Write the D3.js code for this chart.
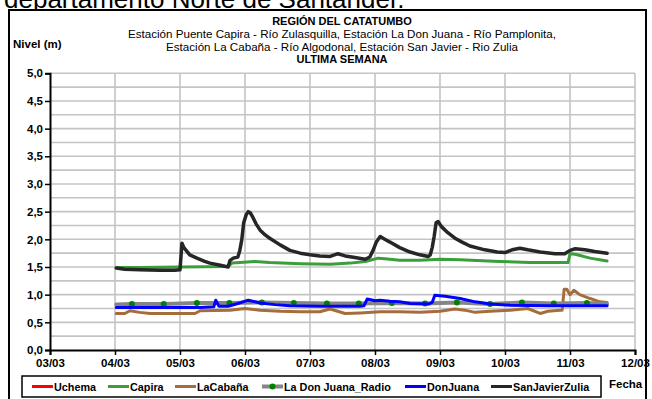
<!DOCTYPE html>
<html><head><meta charset="utf-8">
<script src="https://cdn.jsdelivr.net/npm/d3@7"></script>
<style>body{margin:0;background:#fff}svg{display:block;font-family:"Liberation Sans",Arial,sans-serif}</style>
</head><body><svg id="c" width="652" height="399"></svg>
<script>
// ---- data (times as day-of-March, decimal) ----
const topText = "departamento Norte de Santander.";
const titleLines = ["REGIÓN DEL CATATUMBO",
  "Estación Puente Capira - Río Zulasquilla, Estación La Don Juana - Río Pamplonita,",
  "Estación La Cabaña - Río Algodonal, Estación San Javier - Rio Zulia",
  "ULTIMA SEMANA"];
const yTicks = [0,0.5,1,1.5,2,2.5,3,3.5,4,4.5,5];
const seriesNames = ["Uchema","Capira","LaCabaña","La Don Juana_Radio","DonJuana","SanJavierZulia"];

const uchemaT = [], uchemaV = [];

const capiraT = [4.02,4.38,5.00,5.74,5.80,5.92,6.15,6.38,6.85,7.31,7.62,7.85,8.05,8.15,8.38,8.69,9.00,9.31,9.92,10.38,10.97,11.00,11.08,11.31,11.57];
const capiraV = [1.49,1.49,1.50,1.51,1.57,1.58,1.60,1.58,1.56,1.55,1.57,1.60,1.66,1.65,1.62,1.62,1.64,1.63,1.60,1.58,1.58,1.74,1.73,1.66,1.61];

const cabanaT = [4.02,4.15,4.23,4.38,4.54,5.23,5.31,5.77,6.00,6.23,6.54,6.85,7.15,7.31,7.54,7.77,8.08,8.38,8.69,9.00,9.23,9.38,9.54,9.77,10.08,10.35,10.54,10.66,10.85,10.88,10.91,10.95,11.00,11.06,11.15,11.31,11.46,11.57];
const cabanaV = [0.66,0.66,0.71,0.68,0.66,0.66,0.71,0.72,0.75,0.72,0.70,0.69,0.69,0.74,0.66,0.67,0.69,0.69,0.68,0.70,0.74,0.72,0.68,0.70,0.72,0.75,0.66,0.70,0.72,0.72,1.10,1.10,1.00,1.08,1.00,0.93,0.87,0.86];

const radioT = [4.02,4.26,4.75,5.26,5.76,6.26,6.75,7.26,7.75,8.26,8.77,9.26,9.77,10.26,10.75,11.26,11.57];
const radioV = [0.82,0.83,0.83,0.85,0.85,0.86,0.85,0.84,0.84,0.85,0.84,0.86,0.83,0.86,0.84,0.85,0.83];
const radioMarked = [0,1,1,1,1,1,1,1,1,1,1,1,1,1,1,1,0];

const donJuanaT = [4.02,4.54,5.31,5.52,5.55,5.60,5.74,5.89,6.05,6.23,6.46,6.69,7.15,7.77,7.83,7.88,8.00,8.08,8.23,8.38,8.54,8.82,8.88,8.92,9.08,9.31,9.54,9.77,10.08,10.69,11.57];
const donJuanaV = [0.77,0.77,0.77,0.78,0.90,0.79,0.79,0.84,0.90,0.85,0.82,0.80,0.79,0.79,0.80,0.92,0.89,0.90,0.88,0.87,0.84,0.83,0.86,0.99,0.97,0.93,0.87,0.83,0.81,0.80,0.80];

const sanJavierT = [4.02,4.15,4.38,4.69,4.92,5.00,5.03,5.06,5.15,5.26,5.38,5.46,5.62,5.74,5.77,5.82,5.89,5.92,5.95,5.98,6.02,6.05,6.08,6.12,6.17,6.23,6.31,6.38,6.54,6.69,6.85,7.00,7.15,7.31,7.43,7.54,7.69,7.85,7.92,7.97,8.02,8.08,8.15,8.23,8.38,8.54,8.69,8.82,8.85,8.88,8.91,8.94,8.97,9.03,9.12,9.23,9.34,9.46,9.69,9.88,10.00,10.11,10.23,10.35,10.54,10.77,10.92,11.00,11.08,11.23,11.38,11.57];
const sanJavierV = [1.48,1.46,1.45,1.44,1.44,1.45,1.93,1.85,1.72,1.66,1.60,1.57,1.53,1.50,1.62,1.66,1.68,1.80,1.99,2.30,2.45,2.50,2.48,2.40,2.28,2.17,2.08,2.02,1.90,1.80,1.75,1.72,1.70,1.69,1.74,1.70,1.67,1.64,1.68,1.80,1.95,2.05,2.00,1.95,1.85,1.77,1.72,1.69,1.72,1.85,2.05,2.30,2.32,2.22,2.12,2.02,1.95,1.88,1.81,1.77,1.76,1.81,1.84,1.81,1.77,1.74,1.74,1.80,1.83,1.81,1.78,1.75];

const colors = ["#ff0000","#3a9f3a","#a66d3c","#858585","#0000ff","#262626"];

// ---- helpers ----
const toDate = t => new Date(Date.UTC(2023,2,1) + (t-1)*864e5);
const zip = (T,V) => T.map((t,i)=>({x:toDate(t), y:V[i], i}));
const series = [zip(uchemaT,uchemaV), zip(capiraT,capiraV), zip(cabanaT,cabanaV),
                zip(radioT,radioV), zip(donJuanaT,donJuanaV), zip(sanJavierT,sanJavierV)];

const svg = d3.select("#c");
const L=50, R=635, T=73.3, B=350;
const x = d3.scaleUtc().domain([toDate(3), toDate(12)]).range([L,R]);
const y = d3.scaleLinear().domain([0,5]).range([B,T]);

// top cropped heading
svg.append("text").attr("x",4).attr("y",8).attr("font-size",26).attr("fill","#000").text(topText);

// outer frame
svg.append("rect").attr("x",9).attr("y",10).attr("width",637).attr("height",395)
  .attr("fill","#fff").attr("stroke","#000").attr("stroke-width",2);

// grid
const g = svg.append("g");
const hGrid = d3.range(0.25,5.001,0.25);
g.selectAll(".hg").data(hGrid).join("line")
  .attr("x1",L).attr("x2",R).attr("y1",d=>y(d)).attr("y2",d=>y(d))
  .attr("stroke","#c4c4c4").attr("stroke-width",1.6);
g.selectAll(".vg").data(d3.utcDay.range(toDate(4), toDate(12.5))).join("line")
  .attr("x1",d=>x(d)).attr("x2",d=>x(d)).attr("y1",T).attr("y2",B)
  .attr("stroke","#c4c4c4").attr("stroke-width",1.6);

// axes
const yAxis = d3.axisLeft(y).tickValues(yTicks).tickSize(5).tickFormat(d=>d3.format(".1f")(d).replace(".",","));
const xAxis = d3.axisBottom(x).ticks(d3.utcDay.every(1)).tickSize(5).tickFormat(d3.utcFormat("%d/%m"));
const ya = svg.append("g").attr("transform",`translate(${L},0)`).call(yAxis);
const xa = svg.append("g").attr("transform",`translate(0,${B})`).call(xAxis);
[ya,xa].forEach(a=>{
  a.select(".domain").attr("stroke","#000").attr("stroke-width",2);
  a.selectAll(".tick line").attr("stroke","#000").attr("stroke-width",1.5);
  a.selectAll(".tick text").attr("font-size",11.5).attr("font-weight","bold").attr("fill","#000")
   .attr("font-family","'Liberation Sans',Arial,sans-serif");
});
ya.selectAll(".tick text").attr("x",-7);
xa.selectAll(".tick text").attr("y",9);

// lines
const line = d3.line().x(d=>x(d.x)).y(d=>y(d.y));
const widths = [3,3,3,4,3,3.5];
series.forEach((s,k)=>{
  if(!s.length) return;
  svg.append("path").datum(s).attr("d",line).attr("fill","none")
    .attr("stroke",colors[k]).attr("stroke-width",widths[k])
    .attr("stroke-linejoin","round").attr("stroke-linecap","round");
  if(k===3){
    svg.append("g").selectAll("circle").data(s.filter(d=>radioMarked[d.i])).join("circle")
      .attr("cx",d=>x(d.x)).attr("cy",d=>y(d.y)).attr("r",3).attr("fill","#008000");
  }
});

// titles
const titleY = [24.5,38,50.5,63];
titleLines.forEach((t,i)=>{
  const bold = (i===0||i===3);
  svg.append("text").attr("x",342).attr("y",titleY[i]).attr("text-anchor","middle")
    .attr("font-size",bold?11:11.6).attr("font-weight",bold?"bold":"normal").attr("fill","#000").text(t);
});
svg.append("text").attr("x",13).attr("y",48).attr("font-size",11.5).attr("font-weight","bold").text("Nivel (m)");
svg.append("text").attr("x",609).attr("y",388).attr("font-size",11.5).attr("font-weight","bold").text("Fecha");

// legend
svg.append("rect").attr("x",22).attr("y",376).attr("width",579).attr("height",21)
  .attr("fill","#fff").attr("stroke","#000").attr("stroke-width",1.5);
const legX = [32,108,175,262,405,491];
seriesNames.forEach((n,k)=>{
  svg.append("line").attr("x1",legX[k]).attr("x2",legX[k]+21).attr("y1",386.5).attr("y2",386.5)
    .attr("stroke",colors[k]).attr("stroke-width",k===3?4:3);
  if(k===3) svg.append("circle").attr("cx",legX[k]+10.5).attr("cy",386.5).attr("r",3).attr("fill","#008000");
  svg.append("text").attr("x",legX[k]+22).attr("y",390.5).attr("font-size",10.8).attr("font-weight","bold").text(n);
});
</script></body></html>
